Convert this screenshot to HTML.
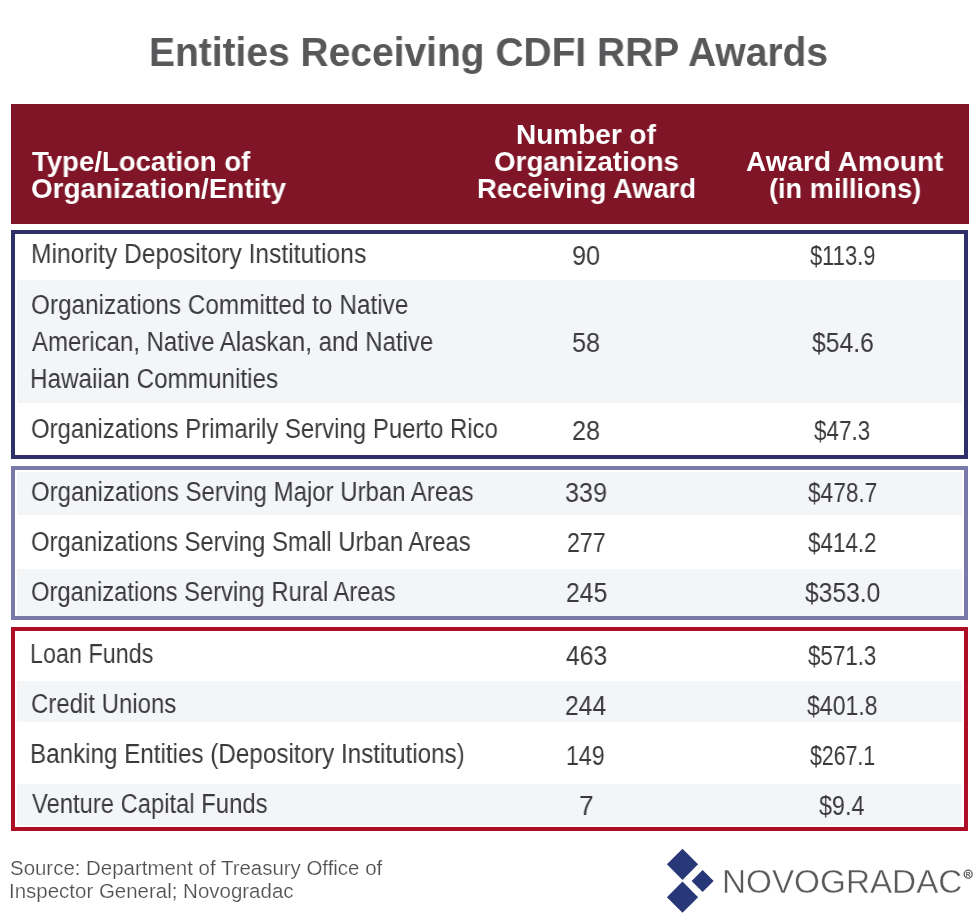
<!DOCTYPE html>
<html><head><meta charset="utf-8">
<style>
html,body{margin:0;padding:0;background:#fff;}
body{width:980px;height:923px;position:relative;overflow:hidden;font-family:"Liberation Sans",sans-serif;}
.t{position:absolute;white-space:nowrap;transform-origin:0 0;will-change:transform;}
.r{position:absolute;}
</style></head><body>
<div class="t" style="left:149.35px;top:31.84px;font-size:40px;line-height:40px;color:#58585a;transform:scaleX(0.9739);font-weight:bold;">Entities Receiving CDFI RRP Awards</div>
<div class="r" style="left:11px;top:104px;width:958px;height:120px;background:#7f1527;"></div>
<div class="t" style="left:31.50px;top:147.90px;font-size:28px;line-height:28px;color:#ffffff;transform:scaleX(0.9838);font-weight:bold;">Type/Location of</div>
<div class="t" style="left:30.51px;top:174.90px;font-size:28px;line-height:28px;color:#ffffff;transform:scaleX(0.9937);font-weight:bold;">Organization/Entity</div>
<div class="t" style="left:516.00px;top:120.90px;font-size:28px;line-height:28px;color:#ffffff;transform:scaleX(0.9987);font-weight:bold;">Number of</div>
<div class="t" style="left:493.51px;top:147.90px;font-size:28px;line-height:28px;color:#ffffff;transform:scaleX(0.9913);font-weight:bold;">Organizations</div>
<div class="t" style="left:476.52px;top:174.90px;font-size:28px;line-height:28px;color:#ffffff;transform:scaleX(0.9775);font-weight:bold;">Receiving Award</div>
<div class="t" style="left:746.00px;top:147.90px;font-size:28px;line-height:28px;color:#ffffff;transform:scaleX(0.9986);font-weight:bold;">Award Amount</div>
<div class="t" style="left:769.03px;top:174.90px;font-size:28px;line-height:28px;color:#ffffff;transform:scaleX(0.9691);font-weight:bold;">(in millions)</div>
<div class="r" style="left:17px;top:280px;width:945px;height:123px;background:#f3f5f7;"></div>
<div class="r" style="left:17px;top:472px;width:945px;height:43px;background:#f3f5f7;"></div>
<div class="r" style="left:17px;top:569px;width:945px;height:47px;background:#f3f5f7;"></div>
<div class="r" style="left:17px;top:681px;width:945px;height:41px;background:#f3f5f7;"></div>
<div class="r" style="left:17px;top:784px;width:945px;height:41px;background:#f3f5f7;"></div>
<div class="r" style="left:11px;top:230px;width:957px;height:229px;border:4px solid #2f3069;box-sizing:border-box;"></div>
<div class="r" style="left:11px;top:466px;width:957px;height:154px;border:4px solid #7979aa;box-sizing:border-box;"></div>
<div class="r" style="left:11px;top:627px;width:957px;height:204px;border:4px solid #ad1026;box-sizing:border-box;"></div>
<div class="t" style="left:30.68px;top:241.14px;font-size:27px;line-height:27px;color:#3a3a3c;transform:scaleX(0.9120);-webkit-text-stroke:0px #ffffff;">Minority Depository Institutions</div>
<div class="t" style="left:31.10px;top:291.74px;font-size:27px;line-height:27px;color:#3a3a3c;transform:scaleX(0.9010);-webkit-text-stroke:0px #f3f5f7;">Organizations Committed to Native</div>
<div class="t" style="left:32.00px;top:328.64px;font-size:27px;line-height:27px;color:#3a3a3c;transform:scaleX(0.8881);-webkit-text-stroke:0px #f3f5f7;">American, Native Alaskan, and Native</div>
<div class="t" style="left:30.20px;top:366.14px;font-size:27px;line-height:27px;color:#3a3a3c;transform:scaleX(0.8991);-webkit-text-stroke:0px #f3f5f7;">Hawaiian Communities</div>
<div class="t" style="left:31.11px;top:416.14px;font-size:27px;line-height:27px;color:#3a3a3c;transform:scaleX(0.8863);-webkit-text-stroke:0px #ffffff;">Organizations Primarily Serving Puerto Rico</div>
<div class="t" style="left:31.11px;top:478.64px;font-size:27px;line-height:27px;color:#3a3a3c;transform:scaleX(0.8880);-webkit-text-stroke:0px #f3f5f7;">Organizations Serving Major Urban Areas</div>
<div class="t" style="left:31.12px;top:528.64px;font-size:27px;line-height:27px;color:#3a3a3c;transform:scaleX(0.8823);-webkit-text-stroke:0px #ffffff;">Organizations Serving Small Urban Areas</div>
<div class="t" style="left:31.12px;top:578.64px;font-size:27px;line-height:27px;color:#3a3a3c;transform:scaleX(0.8800);-webkit-text-stroke:0px #f3f5f7;">Organizations Serving Rural Areas</div>
<div class="t" style="left:30.47px;top:641.14px;font-size:27px;line-height:27px;color:#3a3a3c;transform:scaleX(0.8658);-webkit-text-stroke:0px #ffffff;">Loan Funds</div>
<div class="t" style="left:31.11px;top:691.14px;font-size:27px;line-height:27px;color:#3a3a3c;transform:scaleX(0.8885);-webkit-text-stroke:0px #f3f5f7;">Credit Unions</div>
<div class="t" style="left:30.21px;top:741.14px;font-size:27px;line-height:27px;color:#3a3a3c;transform:scaleX(0.8968);-webkit-text-stroke:0px #ffffff;">Banking Entities (Depository Institutions)</div>
<div class="t" style="left:32.00px;top:791.14px;font-size:27px;line-height:27px;color:#3a3a3c;transform:scaleX(0.8813);-webkit-text-stroke:0px #f3f5f7;">Venture Capital Funds</div>
<div class="t" style="left:572.31px;top:241.90px;font-size:28px;line-height:28px;color:#3a3a3c;transform:scaleX(0.9035);-webkit-text-stroke:0px #ffffff;">90</div>
<div class="t" style="left:572.31px;top:329.40px;font-size:28px;line-height:28px;color:#3a3a3c;transform:scaleX(0.9035);-webkit-text-stroke:0px #f3f5f7;">58</div>
<div class="t" style="left:572.31px;top:416.90px;font-size:28px;line-height:28px;color:#3a3a3c;transform:scaleX(0.9035);-webkit-text-stroke:0px #ffffff;">28</div>
<div class="t" style="left:565.27px;top:479.40px;font-size:28px;line-height:28px;color:#3a3a3c;transform:scaleX(0.8986);-webkit-text-stroke:0px #f3f5f7;">339</div>
<div class="t" style="left:566.94px;top:529.40px;font-size:28px;line-height:28px;color:#3a3a3c;transform:scaleX(0.8269);-webkit-text-stroke:0px #ffffff;">277</div>
<div class="t" style="left:565.58px;top:579.40px;font-size:28px;line-height:28px;color:#3a3a3c;transform:scaleX(0.8829);-webkit-text-stroke:0px #f3f5f7;">245</div>
<div class="t" style="left:565.90px;top:641.90px;font-size:28px;line-height:28px;color:#3a3a3c;transform:scaleX(0.8804);-webkit-text-stroke:0px #ffffff;">463</div>
<div class="t" style="left:565.39px;top:691.90px;font-size:28px;line-height:28px;color:#3a3a3c;transform:scaleX(0.8804);-webkit-text-stroke:0px #f3f5f7;">244</div>
<div class="t" style="left:566.29px;top:741.90px;font-size:28px;line-height:28px;color:#3a3a3c;transform:scaleX(0.8259);-webkit-text-stroke:0px #ffffff;">149</div>
<div class="t" style="left:579.02px;top:791.90px;font-size:28px;line-height:28px;color:#3a3a3c;transform:scaleX(0.9420);-webkit-text-stroke:0px #f3f5f7;">7</div>
<div class="t" style="left:809.60px;top:241.90px;font-size:28px;line-height:28px;color:#3a3a3c;transform:scaleX(0.7829);-webkit-text-stroke:0px #ffffff;">$113.9</div>
<div class="t" style="left:811.60px;top:329.40px;font-size:28px;line-height:28px;color:#3a3a3c;transform:scaleX(0.8824);-webkit-text-stroke:0px #f3f5f7;">$54.6</div>
<div class="t" style="left:814.00px;top:416.90px;font-size:28px;line-height:28px;color:#3a3a3c;transform:scaleX(0.8013);-webkit-text-stroke:0px #ffffff;">$47.3</div>
<div class="t" style="left:807.70px;top:479.40px;font-size:28px;line-height:28px;color:#3a3a3c;transform:scaleX(0.8098);-webkit-text-stroke:0px #f3f5f7;">$478.7</div>
<div class="t" style="left:807.70px;top:529.40px;font-size:28px;line-height:28px;color:#3a3a3c;transform:scaleX(0.8004);-webkit-text-stroke:0px #ffffff;">$414.2</div>
<div class="t" style="left:804.70px;top:579.40px;font-size:28px;line-height:28px;color:#3a3a3c;transform:scaleX(0.8796);-webkit-text-stroke:0px #f3f5f7;">$353.0</div>
<div class="t" style="left:808.10px;top:641.90px;font-size:28px;line-height:28px;color:#3a3a3c;transform:scaleX(0.7980);-webkit-text-stroke:0px #ffffff;">$571.3</div>
<div class="t" style="left:807.20px;top:691.90px;font-size:28px;line-height:28px;color:#3a3a3c;transform:scaleX(0.8240);-webkit-text-stroke:0px #f3f5f7;">$401.8</div>
<div class="t" style="left:809.80px;top:741.90px;font-size:28px;line-height:28px;color:#3a3a3c;transform:scaleX(0.7613);-webkit-text-stroke:0px #ffffff;">$267.1</div>
<div class="t" style="left:819.30px;top:791.90px;font-size:28px;line-height:28px;color:#3a3a3c;transform:scaleX(0.8333);-webkit-text-stroke:0px #f3f5f7;">$9.4</div>
<div class="t" style="left:9.50px;top:857.57px;font-size:20px;line-height:20px;color:#505052;transform:scaleX(1.0218);-webkit-text-stroke:0.2px #ffffff;">Source: Department of Treasury Office of</div>
<div class="t" style="left:8.98px;top:880.57px;font-size:20px;line-height:20px;color:#505052;transform:scaleX(1.0237);-webkit-text-stroke:0.2px #ffffff;">Inspector General; Novogradac</div>
<svg class="r" style="left:0;top:0;" width="980" height="923" viewBox="0 0 980 923">
<polygon fill="#283778" points="682.5,848.7 698.1,864.3 682.5,879.9 666.9,864.3"/>
<polygon fill="#283778" points="682.5,881.6 698.1,897.2 682.5,912.8 666.9,897.2"/>
<polygon fill="#283778" points="702.6,870 713.6,881 702.6,892 691.6,881"/>
<circle cx="968.2" cy="874.2" r="4" fill="none" stroke="#5a5a5c" stroke-width="1.3"/>
<text x="968.2" y="876.6" font-family="Liberation Sans" font-size="6.5" font-weight="bold" fill="#5a5a5c" text-anchor="middle">R</text>
</svg>
<div class="t" style="left:721.68px;top:864.87px;font-size:33px;line-height:33px;color:#5a5a5c;transform:scaleX(1.0084);-webkit-text-stroke:0.45px #ffffff;">NOVOGRADAC</div>
</body></html>
